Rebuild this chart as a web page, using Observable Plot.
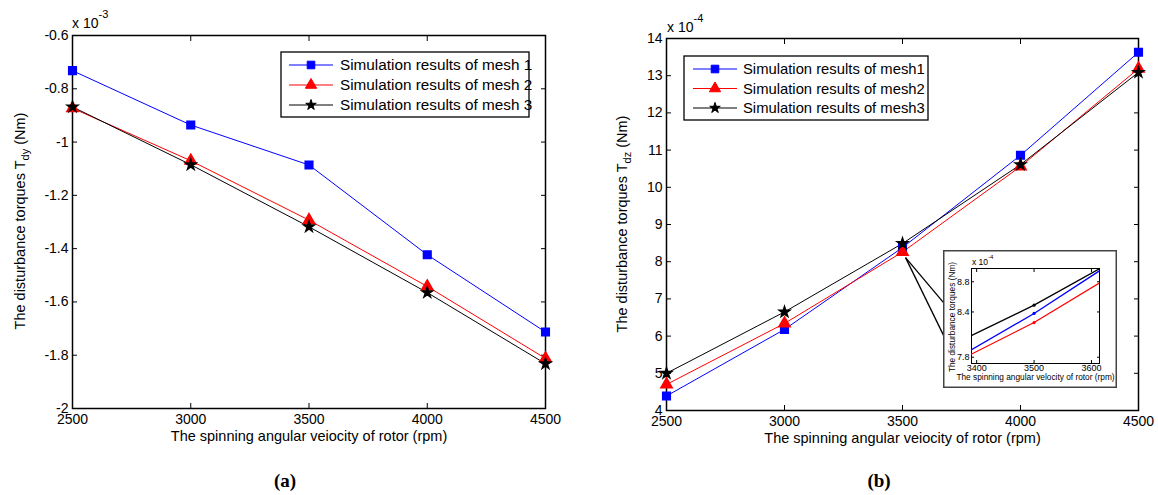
<!DOCTYPE html>
<html>
<head>
<meta charset="utf-8">
<script src="https://cdn.jsdelivr.net/npm/d3@7"></script>
<script src="https://cdn.jsdelivr.net/npm/@observablehq/plot@0.6"></script>
<style>
  html, body { margin: 0; padding: 0; background: #fff; }
  body { width: 1158px; height: 495px; position: relative; overflow: hidden; font-family: "Liberation Sans", Arial, Helvetica, sans-serif; }
  .abs { position: absolute; }
  .cap { font-family: "Liberation Serif", "Times New Roman", serif; font-weight: bold; font-size: 19px; color: #000; transform: translateX(-50%); }
</style>
</head>
<body>
<div id="chartA" class="abs" style="left:0px;top:0px"></div>
<div id="chartB" class="abs" style="left:580px;top:0px"></div>
<div id="inset" class="abs" style="left:943px;top:250px"></div>
<div class="abs cap" style="left:285px;top:470px">(a)</div>
<div class="abs cap" style="left:879px;top:470px">(b)</div>
<script>
// ---------------- data ----------------
const speeds = [2500, 3000, 3500, 4000, 4500];
const legendA = ["Simulation results of mesh 1", "Simulation results of mesh 2", "Simulation results of mesh 3"];
const legendB = ["Simulation results of mesh1", "Simulation results of mesh2", "Simulation results of mesh3"];
// Panel (a): T_dy (x 10^-3 Nm)
const tdyMesh1 = [-0.732, -0.936, -1.086, -1.423, -1.713];
const tdyMesh2 = [-0.873, -1.070, -1.293, -1.542, -1.812];
const tdyMesh3 = [-0.868, -1.085, -1.318, -1.565, -1.832];
// Panel (b): T_dz (x 10^-4 Nm)
const tdzMesh1 = [4.39, 6.18, 8.38, 10.86, 13.63];
const tdzMesh2 = [4.70, 6.34, 8.26, 10.56, 13.19];
const tdzMesh3 = [5.00, 6.65, 8.49, 10.61, 13.09];
const xTicks = [2500, 3000, 3500, 4000, 4500];
const yTicksA = [-2, -1.8, -1.6, -1.4, -1.2, -1, -0.8, -0.6];
const yTicksB = [4, 5, 6, 7, 8, 9, 10, 11, 12, 13, 14];
const insetXTicks = [3400, 3500, 3600];
const insetYTicks = [7.8, 8.4, 8.8];
const insetXDomain = [3391, 3614];
const insetYDomain = [7.717, 8.976];
const zoomedSpeed = 3500;
// callout lines (data coordinates of panel b)
const calloutStart = {speed: 3513, torque: 8.11};
const calloutEnds = [{speed: 3674, torque: 6.90}, {speed: 3674, torque: 6.02}];
const xTitle = "The spinning angular veiocity of rotor (rpm)";
const xTitleInset = "The spinning angular velocity of rotor (rpm)";
const yTitleMain = "The disturbance torques T";
const yTitleInset = "The disturbance torques (Nm)";
const colors = ["#0000ff", "#ff0000", "#000000"];
const symbols = ["square", "triangle", "star"];
const markerRadii = [4.3, 4.2, 3.3];

const FONT = '"Liberation Sans", Arial, Helvetica, sans-serif';
const toRows = (names, arrays) => names.flatMap((n, k) => speeds.map((s, i) => ({speed: s, torque: arrays[k][i], series: n, r: markerRadii[k]})));
const rowsA = toRows(legendA, [tdyMesh1, tdyMesh2, tdyMesh3]);
const rowsB = toRows(legendB, [tdzMesh1, tdzMesh2, tdzMesh3]);

function boxAxes(xt, yt, size, padX, padY) {
  return [
    Plot.axisX(xt, {anchor: "bottom", tickSize: -size, tickPadding: padX, tickFormat: String, label: null}),
    Plot.axisX(xt, {anchor: "top", tickSize: -size, tickFormat: () => "", label: null}),
    Plot.axisY(yt, {anchor: "left", tickSize: -size, tickPadding: padY, tickFormat: String, label: null}),
    Plot.axisY(yt, {anchor: "right", tickSize: -size, tickFormat: () => "", label: null})
  ];
}

function addLegend(svg, names, o) {
  const g = d3.select(svg).append("g").attr("text-anchor", "start");
  g.append("rect").attr("x", o.x).attr("y", o.y).attr("width", o.w).attr("height", o.h)
    .attr("fill", "#fff").attr("stroke", "#000").attr("stroke-width", 1.3);
  names.forEach((n, i) => {
    const cy = o.rows[i];
    g.append("line").attr("x1", o.l1).attr("x2", o.l2).attr("y1", cy).attr("y2", cy)
      .attr("stroke", colors[i]).attr("stroke-width", 1);
    const sym = {square: d3.symbolSquare, triangle: d3.symbolTriangle, star: d3.symbolStar}[symbols[i]];
    g.append("path").attr("d", d3.symbol(sym, markerRadii[i] * markerRadii[i] * Math.PI)())
      .attr("transform", `translate(${(o.l1 + o.l2) / 2},${cy})`)
      .attr("fill", colors[i]).attr("stroke", colors[i]);
    g.append("text").attr("x", o.tx).attr("y", cy + 5).attr("font-size", o.fs)
      .attr("text-anchor", "start").attr("font-family", FONT).attr("fill", "#000").text(n);
  });
}

function addYTitle(svg, x, y, sub) {
  const t = d3.select(svg).append("text").attr("transform", `translate(${x},${y}) rotate(-90)`)
    .attr("text-anchor", "middle").attr("font-size", 14.5).attr("font-family", FONT).attr("fill", "#000");
  t.append("tspan").text(yTitleMain);
  t.append("tspan").attr("font-size", 11).attr("dy", 4).text(sub);
  t.append("tspan").attr("dy", -4).text(" (Nm)");
}

function addExp(svg, x, y, exp, fs, sfs) {
  const t = d3.select(svg).append("text").attr("x", x).attr("y", y).attr("text-anchor", "start")
    .attr("font-size", fs).attr("font-family", FONT).attr("fill", "#000");
  t.append("tspan").text("x 10");
  t.append("tspan").attr("font-size", sfs).attr("dy", -fs * 0.75).text(exp);
}

function mainPlot(rows, names, yDomain, yTicks, size) {
  return Plot.plot({
    ...size,
    style: {fontFamily: FONT, fontSize: "14px", color: "#000", background: "transparent", overflow: "visible"},
    x: {domain: [2500, 4500]},
    y: {domain: yDomain},
    r: {type: "identity"},
    color: {domain: names, range: colors},
    symbol: {domain: names, range: symbols},
    marks: [
      ...boxAxes(xTicks, yTicks, 5, 11, 9),
      Plot.frame({stroke: "#000", strokeWidth: 1.5}),
      Plot.line(rows, {x: "speed", y: "torque", z: "series", stroke: "series", strokeWidth: 1}),
      Plot.dot(rows, {x: "speed", y: "torque", symbol: "series", fill: "series", stroke: "series", r: "r"}),
      ...(size.extra || []),
      Plot.text([xTitle], {frameAnchor: "bottom", dy: 32, text: d => d, fontSize: 14.5})
    ]
  });
}

// ---------------- panel (a) ----------------
const plotA = mainPlot(rowsA, legendA, [-2, -0.6], yTicksA,
  {width: 560, height: 460, marginLeft: 72, marginRight: 15, marginTop: 35, marginBottom: 52});
document.getElementById("chartA").appendChild(plotA);
addLegend(plotA, legendA, {x: 281, y: 52, w: 248, h: 65, rows: [65, 85, 105], l1: 289, l2: 333, tx: 340, fs: 15.3});
addYTitle(plotA, 25, 221, "dy");
addExp(plotA, 72, 28, "-3", 14, 11);

// ---------------- panel (b) ----------------
const plotB = mainPlot(rowsB, legendB, [4, 14], yTicksB,
  {width: 578, height: 460, marginLeft: 86, marginRight: 20, marginTop: 38, marginBottom: 50,
   extra: [Plot.link(calloutEnds, {x1: () => calloutStart.speed, y1: () => calloutStart.torque, x2: "speed", y2: "torque", stroke: "#000", strokeWidth: 1.3})]});
document.getElementById("chartB").appendChild(plotB);
addLegend(plotB, legendB, {x: 104, y: 56, w: 244, h: 64, rows: [69, 88.5, 108], l1: 113, l2: 157, tx: 163, fs: 14.8});
addYTitle(plotB, 47, 224, "dz");
addExp(plotB, 87, 32, "-4", 14, 11);

// ---------------- inset ----------------
const insetRows = rowsB;
const plotI = Plot.plot({
  width: 174, height: 138,
  marginLeft: 28, marginRight: 18, marginTop: 18, marginBottom: 25,
  style: {fontFamily: FONT, fontSize: "9px", color: "#000", background: "#fff", overflow: "visible"},
  x: {domain: insetXDomain},
  y: {domain: insetYDomain},
  color: {domain: legendB, range: colors},
  marks: [
    ...boxAxes(insetXTicks, insetYTicks, 3, 4, 5),
    Plot.frame({stroke: "#000", strokeWidth: 1}),
    Plot.line(insetRows, {x: "speed", y: "torque", z: "series", stroke: "series", strokeWidth: 1.3, clip: true}),
    Plot.dot(insetRows.filter(d => d.speed === zoomedSpeed), {x: "speed", y: "torque", fill: "series", r: 1.6}),
    Plot.text([xTitleInset], {frameAnchor: "bottom", dy: 16, text: d => d, fontSize: 8.3})
  ]
});
document.getElementById("inset").appendChild(plotI);
d3.select(plotI).insert("rect", ":first-child").attr("x", 0.75).attr("y", 0.75).attr("width", 172.5).attr("height", 136.5)
  .attr("fill", "#fff").attr("stroke", "#444").attr("stroke-width", 1.5);
d3.select(plotI).append("text").attr("transform", "translate(12,67) rotate(-90)").attr("text-anchor", "middle")
  .attr("font-size", 8.3).attr("font-family", FONT).attr("fill", "#000").text(yTitleInset);
addExp(plotI, 29, 15, "-4", 8.5, 6);
</script>
</body>
</html>
